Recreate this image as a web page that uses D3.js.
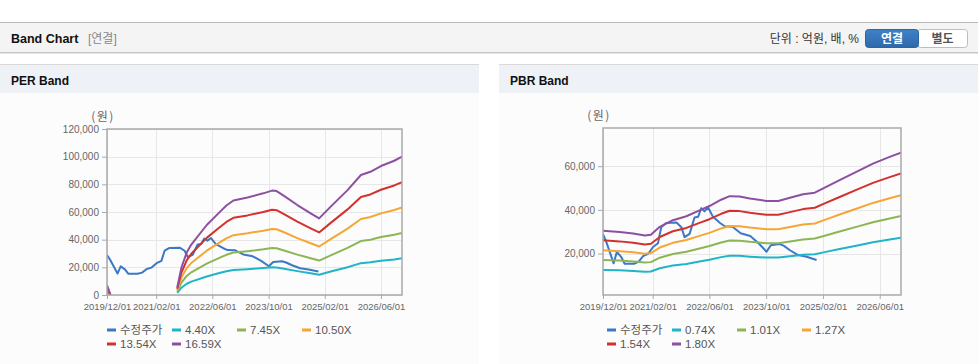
<!DOCTYPE html>
<html>
<head>
<meta charset="utf-8">
<script src="https://cdn.jsdelivr.net/npm/d3@7"></script>
<style>
  body { margin: 0; background: #fff; }
  svg { display: block; }
</style>
</head>
<body>
<div id="page"></div>
<script>
// x values are months counted from 2019/12/01
var xTickMonths = [0, 14, 30, 46, 62, 78];
var xTickLabels = ["2019/12/01", "2021/02/01", "2022/06/01", "2023/10/01", "2025/02/01", "2026/06/01"];

// 수정주가 (adjusted price, won)
var priceMonths = [0, 1, 3, 3.9, 5.1, 6.1, 8.7, 10, 11.3, 12.7, 14.1, 15.5, 16.4, 17.8, 20.7, 22.1, 23, 24.4, 25.8, 26.8,
                   27.7, 28.6, 29.6, 31, 33, 34.3, 36.5, 38.8, 41.5, 44, 46.1, 47.3, 49.8, 51, 52.7, 55, 57.4, 60.2];
var priceValues = [28900, 25000, 15500, 20700, 18500, 15300, 15300, 16200, 18800, 19800, 23000, 24700, 32000, 34000, 34200, 32000, 27500, 29000, 36500, 36800,
                   40800, 39300, 41200, 36800, 34000, 32500, 32300, 29300, 28000, 24500, 20800, 23800, 24400, 23500, 21500, 19300, 18500, 17000];

// EPS behind the PER bands (null = no band drawn)
var epsMonths = [0, 1, 10, 20, 21.2, 22.7, 24, 28.4, 32, 34, 36, 40, 44.5, 47, 48.3, 50.4, 54.2, 58, 60.4, 63.7, 68.5, 72.3, 75, 78, 81.8, 84];
var epsValues = [430, 0, null, 330, 1200, 1850, 2200, 3050, 3600, 3900, 4120, 4250, 4430, 4550, 4530, 4320, 3920, 3560, 3340, 3850, 4570, 5230, 5370, 5620, 5850, 6030];
var perMultiples = [4.40, 7.45, 10.50, 13.54, 16.59];
var perLabels = ["4.40X", "7.45X", "10.50X", "13.54X", "16.59X"];

// BPS behind the PBR bands
var bpsMonths = [0, 4.7, 8.5, 11.8, 13.5, 16, 19.7, 23.5, 27.2, 30, 33.3, 35.7, 38.5, 41.4, 46, 49.4, 52.7, 56.4, 59.7, 62.5, 66.7, 71.4, 76.1, 80.8, 84];
var bpsValues = [16900, 16600, 16200, 15700, 15900, 17900, 19600, 20600, 22100, 23200, 24800, 25700, 25600, 25100, 24500, 24500, 25300, 26200, 26600, 27900, 29800, 31900, 34000, 35700, 36800];
var pbrMultiples = [0.74, 1.01, 1.27, 1.54, 1.80];
var pbrLabels = ["0.74X", "1.01X", "1.27X", "1.54X", "1.80X"];

var perTicks = [0, 20000, 40000, 60000, 80000, 100000, 120000];
var pbrTicks = [20000, 40000, 60000];

var priceLabel = "수정주가";
var colors = ["#3b78c6", "#1fb4c8", "#8db553", "#f5a634", "#d2312d", "#8d50a0"];

var W = 978, H = 364;
var latin = "'Liberation Sans', Arial, 'Noto Sans CJK KR', sans-serif";

var svg = d3.select("#page").append("svg")
    .attr("width", W)
    .attr("height", H)
    .style("font-family", latin);

// ---- top header bar
svg.append("rect").attr("x", 0).attr("y", 22).attr("width", W).attr("height", 31).attr("fill", "#f4f4f4");
svg.append("line").attr("x1", 0).attr("x2", W).attr("y1", 22.5).attr("y2", 22.5).attr("stroke", "#b9b9b9");
svg.append("line").attr("x1", 0).attr("x2", W).attr("y1", 52.5).attr("y2", 52.5).attr("stroke", "#c4c4c4");
svg.append("line").attr("x1", 0).attr("x2", W).attr("y1", 53.5).attr("y2", 53.5).attr("stroke", "#e6e6e6");

svg.append("text").attr("x", 11).attr("y", 43)
    .attr("font-size", 12.5).attr("font-weight", "bold").attr("fill", "#111")
    .text("Band Chart");
svg.append("text").attr("x", 88).attr("y", 43)
    .attr("font-size", 12).attr("fill", "#888")
    .text("[연결]");
svg.append("text").attr("x", 859).attr("y", 43)
    .attr("font-size", 12).attr("fill", "#333").attr("text-anchor", "end")
    .text("단위 : 억원, 배, %");

var defs = svg.append("defs");
var grad = defs.append("linearGradient").attr("id", "btnBlue").attr("x1", 0).attr("x2", 0).attr("y1", 0).attr("y2", 1);
grad.append("stop").attr("offset", "0%").attr("stop-color", "#3f82c8");
grad.append("stop").attr("offset", "100%").attr("stop-color", "#2d69aa");

svg.append("rect").attr("x", 917.5).attr("y", 29.5).attr("width", 50).attr("height", 18).attr("rx", 3)
    .attr("fill", "#fff").attr("stroke", "#bdbdbd");
svg.append("rect").attr("x", 865.5).attr("y", 29.5).attr("width", 53).attr("height", 18).attr("rx", 3)
    .attr("fill", "url(#btnBlue)").attr("stroke", "#2b65a3");
svg.append("text").attr("x", 892).attr("y", 43).attr("text-anchor", "middle")
    .attr("font-size", 12).attr("font-weight", "bold").attr("fill", "#fff").text("연결");
svg.append("text").attr("x", 942.5).attr("y", 43).attr("text-anchor", "middle")
    .attr("font-size", 12).attr("font-weight", "bold").attr("fill", "#555").text("별도");

// ---- panels
function panel(x0, width, title) {
  svg.append("rect").attr("x", x0).attr("y", 93).attr("width", width).attr("height", H - 93).attr("fill", "#fcfcfc");
  svg.append("rect").attr("x", x0).attr("y", 64).attr("width", width).attr("height", 29).attr("fill", "#eef2f7");
  svg.append("line").attr("x1", x0).attr("x2", x0 + width).attr("y1", 64.5).attr("y2", 64.5).attr("stroke", "#d9d9d9");
  svg.append("text").attr("x", x0 + 11).attr("y", 85)
      .attr("font-size", 12).attr("font-weight", "bold").attr("fill", "#111")
      .text(title);
}
panel(0, 479, "PER Band");
panel(499, 479, "PBR Band");

function makeBand(months, values, mult) {
  return months.map(function(m, i) {
    return [m, values[i] == null ? null : values[i] * mult];
  });
}

function drawBand(o) {
  var x = d3.scaleLinear().domain([0, 84]).range([o.left, o.right]);
  var y = d3.scaleLinear().domain(o.yDomain).range([o.bottom, o.top]);
  var g = svg.append("g");

  // grid
  g.selectAll(".hgrid").data(o.yTicks).join("line")
      .attr("x1", o.left).attr("x2", o.right)
      .attr("y1", d => Math.round(y(d)) + 0.5).attr("y2", d => Math.round(y(d)) + 0.5)
      .attr("stroke", "#e7e7e7");
  g.selectAll(".vgrid").data(xTickMonths).join("line")
      .attr("x1", d => Math.round(x(d)) + 0.5).attr("x2", d => Math.round(x(d)) + 0.5)
      .attr("y1", o.top).attr("y2", o.bottom)
      .attr("stroke", "#e7e7e7");

  // axes
  var yAxis = g.append("g")
      .attr("transform", `translate(${o.left},0)`)
      .call(d3.axisLeft(y).tickValues(o.yTicks).tickSize(5).tickPadding(3).tickFormat(d3.format(",")));
  yAxis.select(".domain").remove();
  yAxis.selectAll("line").attr("stroke", "#aaa");
  yAxis.selectAll("text").attr("fill", "#666").attr("font-size", 10).attr("font-family", latin);

  var xAxis = g.append("g")
      .attr("transform", `translate(0,${o.bottom})`)
      .call(d3.axisBottom(x).tickValues(xTickMonths).tickSize(4).tickPadding(4).tickFormat((d, i) => xTickLabels[i]));
  xAxis.select(".domain").remove();
  xAxis.selectAll("line").attr("stroke", "#aaa");
  xAxis.selectAll("text").attr("fill", "#666").attr("font-size", 9.5).attr("font-family", latin);

  g.append("text").attr("x", o.left - 4).attr("y", o.top - 8)
      .attr("text-anchor", "middle").attr("font-size", 12).attr("fill", "#666")
      .attr("letter-spacing", 1.5)
      .attr("font-family", "'Noto Sans CJK KR', sans-serif")
      .text("(원)");

  // series
  var clipId = "clip" + o.left;
  defs.append("clipPath").attr("id", clipId)
      .append("rect").attr("x", o.left).attr("y", o.top - 2).attr("width", o.right - o.left).attr("height", o.bottom - o.top + 2);

  var line = d3.line()
      .defined(d => d[1] != null)
      .x(d => x(d[0]))
      .y(d => y(d[1]));

  var series = [priceMonths.map((m, i) => [m, priceValues[i]])];
  o.multiples.forEach(function(mult) {
    series.push(makeBand(o.baseMonths, o.baseValues, mult));
  });

  g.append("g").attr("clip-path", `url(#${clipId})`)
    .selectAll("path").data(series).join("path")
      .attr("d", line)
      .attr("fill", "none")
      .attr("stroke", (d, i) => colors[i])
      .attr("stroke-width", 2)
      .attr("stroke-linejoin", "round");

  // plot frame
  g.append("rect")
      .attr("x", o.left).attr("y", o.top)
      .attr("width", o.right - o.left).attr("height", o.bottom - o.top)
      .attr("fill", "none").attr("stroke", "#a9a9a9").attr("stroke-width", 1.5);

  // legend
  var names = [priceLabel].concat(o.labels);
  var legend = g.selectAll(".legend").data(names).join("g")
      .attr("transform", (d, i) => `translate(${o.legendX + (i % 4) * 65},${i < 4 ? 330 : 344})`);
  legend.append("line")
      .attr("x1", 0).attr("x2", 9).attr("y1", 0).attr("y2", 0)
      .attr("stroke", (d, i) => colors[i]).attr("stroke-width", 3);
  legend.append("text")
      .attr("x", 13).attr("y", 4)
      .attr("font-size", 11.5).attr("fill", "#555")
      .text(d => d);
}

drawBand({
  left: 107, right: 402, top: 129, bottom: 295,
  yDomain: [0, 120000], yTicks: perTicks,
  baseMonths: epsMonths, baseValues: epsValues,
  multiples: perMultiples, labels: perLabels,
  legendX: 107
});

drawBand({
  left: 603, right: 901, top: 128, bottom: 295,
  yDomain: [1000, 77500], yTicks: pbrTicks,
  baseMonths: bpsMonths, baseValues: bpsValues,
  multiples: pbrMultiples, labels: pbrLabels,
  legendX: 607
});
</script>
</body>
</html>
